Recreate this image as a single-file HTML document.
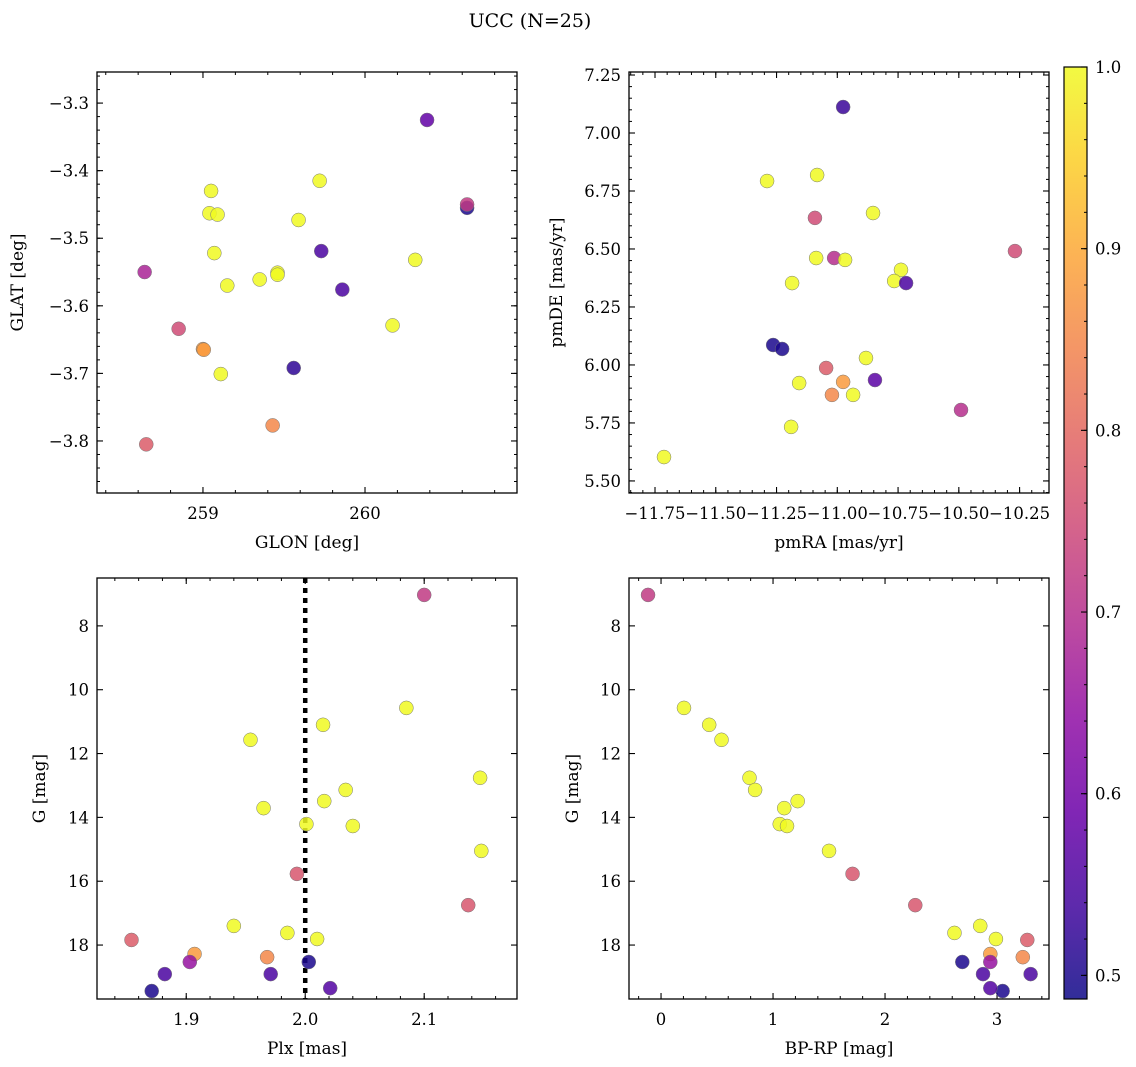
<!DOCTYPE html>
<html><head><meta charset="utf-8"><style>
html,body{margin:0;padding:0;background:#fff}
svg{display:block;font-family:"DejaVu Serif","Liberation Serif",serif}
</style></head><body>
<svg id="fig" width="1136" height="1067" viewBox="0 0 1136 1067">
<text x="530" y="27" font-size="19" text-anchor="middle">UCC (N=25)</text>
</svg>
<script>
// Top-left: GLON vs GLAT
const glonVals=[260.383,260.63,260.63,259.05,259.72,259.04,259.09,259.59,259.73,259.07,258.64,259.46,259.46,259.35,259.15,259.86,260.31,258.85,260.17,259.0,259.005,259.11,259.56,259.43,258.65];
const glatVals=[-3.325,-3.455,-3.450,-3.430,-3.415,-3.463,-3.465,-3.473,-3.519,-3.522,-3.550,-3.551,-3.554,-3.561,-3.570,-3.576,-3.532,-3.634,-3.629,-3.664,-3.665,-3.701,-3.692,-3.777,-3.805];
const glColor=[0.58,0.50,0.72,1,1,1,1,1,0.55,1,0.68,1,1,1,1,0.55,1,0.75,1,0.88,0.88,1,0.52,0.85,0.78];
// Top-right: pmRA vs pmDE
const pmraVals=[-10.976,-11.289,-11.083,-11.092,-10.853,-10.269,-11.087,-11.013,-10.968,-10.738,-10.766,-10.717,-11.186,-11.264,-11.227,-10.882,-11.046,-11.157,-10.976,-10.845,-10.935,-11.022,-10.491,-11.190,-11.713];
const pmdeVals=[7.112,6.793,6.819,6.634,6.655,6.491,6.461,6.461,6.453,6.410,6.362,6.353,6.353,6.086,6.069,6.030,5.987,5.922,5.927,5.935,5.871,5.871,5.806,5.733,5.603];
const pmColor=[0.53,1,1,0.75,1,0.75,1,0.7,1,1,1,0.55,1,0.5,0.5,1,0.78,1,0.88,0.57,1,0.85,0.7,1,1];
// Bottom: Plx, BP-RP, G
const plxVals=[2.100,2.085,2.015,1.954,2.147,2.034,2.016,1.965,2.001,2.040,2.148,1.993,2.137,1.940,1.985,2.010,1.854,1.907,1.968,1.903,2.003,1.882,1.971,1.871,2.021];
const bprpVals=[-0.116,0.205,0.43,0.54,0.79,0.84,1.22,1.10,1.06,1.125,1.5,1.71,2.27,2.85,2.62,2.99,3.27,2.94,3.23,2.94,2.69,2.875,3.30,3.05,2.94];
const gVals=[7.03,10.57,11.10,11.57,12.76,13.14,13.49,13.71,14.21,14.27,15.05,15.77,16.75,17.40,17.62,17.81,17.84,18.28,18.38,18.53,18.53,18.91,18.91,19.44,19.35];
const gColor=[0.72,1,1,1,1,1,1,1,1,1,1,0.77,0.77,1,1,1,0.78,0.88,0.85,0.65,0.5,0.55,0.55,0.5,0.56];
const glonTicks=[259,260], glatTicks=[-3.8,-3.7,-3.6,-3.5,-3.4,-3.3];
const pmraTicks=[-11.75,-11.5,-11.25,-11.0,-10.75,-10.5,-10.25], pmdeTicks=[5.5,5.75,6.0,6.25,6.5,6.75,7.0,7.25];
const plxTicks=[1.9,2.0,2.1], bprpTicks=[0,1,2,3], gTicks=[8,10,12,14,16,18];
const cbTicks=[0.5,0.6,0.7,0.8,0.9,1.0];
const VMIN=0.487,VMAX=1.0;

const NS="http://www.w3.org/2000/svg";
const svg=document.getElementById('fig');
function mk(tag,attrs,parent){const e=document.createElementNS(NS,tag);for(const k in attrs)e.setAttribute(k,attrs[k]);(parent||svg).appendChild(e);return e;}
const stops=[[0,13,8,135],[.1,65,4,157],[.2,106,0,168],[.3,143,13,164],[.4,177,42,144],[.5,204,71,120],[.6,225,100,98],[.7,242,132,75],[.8,252,166,54],[.9,252,206,37],[1,240,249,33]];
function plasma(t){t=Math.max(0,Math.min(1,t));for(let i=1;i<stops.length;i++){if(t<=stops[i][0]){const a=stops[i-1],b=stops[i],f=(t-a[0])/(b[0]-a[0]);return `rgb(${Math.round(a[1]+f*(b[1]-a[1]))},${Math.round(a[2]+f*(b[2]-a[2]))},${Math.round(a[3]+f*(b[3]-a[3]))})`;}}return 'rgb(240,249,33)';}
function cmap(v){return plasma((v-VMIN)/(VMAX-VMIN));}
function fmt(v,d){let s=v.toFixed(d);return s.replace('-','\u2212');}

function panel(p){
  const g=mk('g',{});
  
  
  const sx=v=>p.x0+(v-p.xlim[0])/(p.xlim[1]-p.xlim[0])*(p.x1-p.x0);
  const sy=v=>p.y1-(v-p.ylim[0])/(p.ylim[1]-p.ylim[0])*(p.y1-p.y0);
  // minor ticks
  for(let v=Math.ceil(p.xlim[0]/p.xminor-1e-6)*p.xminor;v<=p.xlim[1]+1e-9;v+=p.xminor){const x=sx(v);mk('line',{x1:x,x2:x,y1:p.y1,y2:p.y1-3,stroke:'#000','stroke-width':1},g);mk('line',{x1:x,x2:x,y1:p.y0,y2:p.y0+3,stroke:'#000','stroke-width':1},g);}
  for(let v=Math.ceil(p.ylim[0]/p.yminor-1e-6)*p.yminor;v<=p.ylim[1]+1e-9;v+=p.yminor){const y=sy(v);mk('line',{x1:p.x0,x2:p.x0+3,y1:y,y2:y,stroke:'#000','stroke-width':1},g);mk('line',{x1:p.x1,x2:p.x1-3,y1:y,y2:y,stroke:'#000','stroke-width':1},g);}
  p.xticks.forEach(v=>{const x=sx(v);mk('line',{x1:x,x2:x,y1:p.y1,y2:p.y1-6,stroke:'#000','stroke-width':1.1},g);mk('line',{x1:x,x2:x,y1:p.y0,y2:p.y0+6,stroke:'#000','stroke-width':1.1},g);
    const t=mk('text',{x:x,y:p.y1+26,'font-size':16.5,'text-anchor':'middle'},g);t.textContent=fmt(v,p.xd);});
  p.yticks.forEach(v=>{const y=sy(v);mk('line',{x1:p.x0,x2:p.x0+6,y1:y,y2:y,stroke:'#000','stroke-width':1.1},g);mk('line',{x1:p.x1,x2:p.x1-6,y1:y,y2:y,stroke:'#000','stroke-width':1.1},g);
    const t=mk('text',{x:p.x0-8,y:y+6,'font-size':16.5,'text-anchor':'end'},g);t.textContent=fmt(v,p.yd);});
  if(p.vline!==undefined){const x=sx(p.vline);const l=mk('line',{x1:x,x2:x,y1:p.y0,y2:p.y1,stroke:'#000','stroke-width':4.5,'stroke-dasharray':'5,5'},g);}
  // points: draw in order of color ascending? matplotlib draws in array order
  p.xs.forEach((xv,i)=>{const c=mk('circle',{cx:sx(xv),cy:sy(p.ys[i]),r:7,fill:cmap(p.cs[i]),'fill-opacity':0.85,stroke:'#777','stroke-width':0.5},g);
    });
  const fr=mk('rect',{x:p.x0,y:p.y0,width:p.x1-p.x0,height:p.y1-p.y0,fill:'none',stroke:'#000','stroke-width':1.3},g);
  
  const xl=mk('text',{x:(p.x0+p.x1)/2,y:p.y1+55,'font-size':17,'text-anchor':'middle'},g);xl.textContent=p.xlabel;
  
  const yx=p.ylx,yy=(p.y0+p.y1)/2;
  const yl=mk('text',{x:yx,y:yy,'font-size':17,'text-anchor':'middle',transform:`rotate(-90 ${yx} ${yy})`},g);yl.textContent=p.ylabel;
  
}
panel({name:'glon-glat-panel',x0:97,x1:517,y0:72,y1:493,xlim:[258.346,260.938],ylim:[-3.877,-3.254],xticks:glonTicks,yticks:glatTicks,xminor:0.2,yminor:0.02,xd:0,yd:1,xs:glonVals,ys:glatVals,cs:glColor,xlabel:'GLON [deg]',ylabel:'GLAT [deg]',ylx:23});
panel({name:'pm-panel',x0:629,x1:1049,y0:72,y1:493,xlim:[-11.857,-10.129],ylim:[5.448,7.263],xticks:pmraTicks,yticks:pmdeTicks,xminor:0.05,yminor:0.05,xd:2,yd:2,xs:pmraVals,ys:pmdeVals,cs:pmColor,xlabel:'pmRA [mas/yr]',ylabel:'pmDE [mas/yr]',ylx:562});
panel({name:'plx-g-panel',x0:97,x1:517,y0:578,y1:999,xlim:[1.825,2.178],ylim:[19.69,6.50].map(v=>v),xticks:plxTicks,yticks:gTicks,xminor:0.02,yminor:0.5,xd:1,yd:0,xs:plxVals,ys:gVals.map(v=>v),cs:gColor,xlabel:'Plx [mas]',ylabel:'G [mag]',ylx:45,vline:2.0,inv:true});
panel({name:'cmd-panel',x0:629,x1:1049,y0:578,y1:999,xlim:[-0.286,3.464],ylim:[19.69,6.50],xticks:bprpTicks,yticks:gTicks,xminor:0.2,yminor:0.5,xd:0,yd:0,xs:bprpVals,ys:gVals,cs:gColor,xlabel:'BP-RP [mag]',ylabel:'G [mag]',ylx:578});

// colorbar
const cb=mk('g',{});


const defs=mk('defs',{},cb);
const lg=mk('linearGradient',{id:'cbg',x1:0,y1:1,x2:0,y2:0},defs);
stops.forEach(s=>mk('stop',{offset:s[0],'stop-color':`rgb(${s[1]},${s[2]},${s[3]})`,'stop-opacity':0.85},lg));
const CB={x0:1064,x1:1087,y0:67,y1:999};
mk('rect',{x:CB.x0,y:CB.y0,width:CB.x1-CB.x0,height:CB.y1-CB.y0,fill:'url(#cbg)',stroke:'#000','stroke-width':1.2},cb);
const cy=v=>CB.y1-(v-VMIN)/(VMAX-VMIN)*(CB.y1-CB.y0);
for(let v=0.5;v<=1.0001;v+=0.02){const y=cy(v);mk('line',{x1:CB.x1,x2:CB.x1-3,y1:y,y2:y,stroke:'#000','stroke-width':1},cb);}
cbTicks.forEach(v=>{const y=cy(v);mk('line',{x1:CB.x1,x2:CB.x1-6,y1:y,y2:y,stroke:'#000','stroke-width':1.1},cb);
  const t=mk('text',{x:CB.x1+8,y:y+6,'font-size':16.5},cb);t.textContent=v.toFixed(1);
  });
</script>
</body></html>
